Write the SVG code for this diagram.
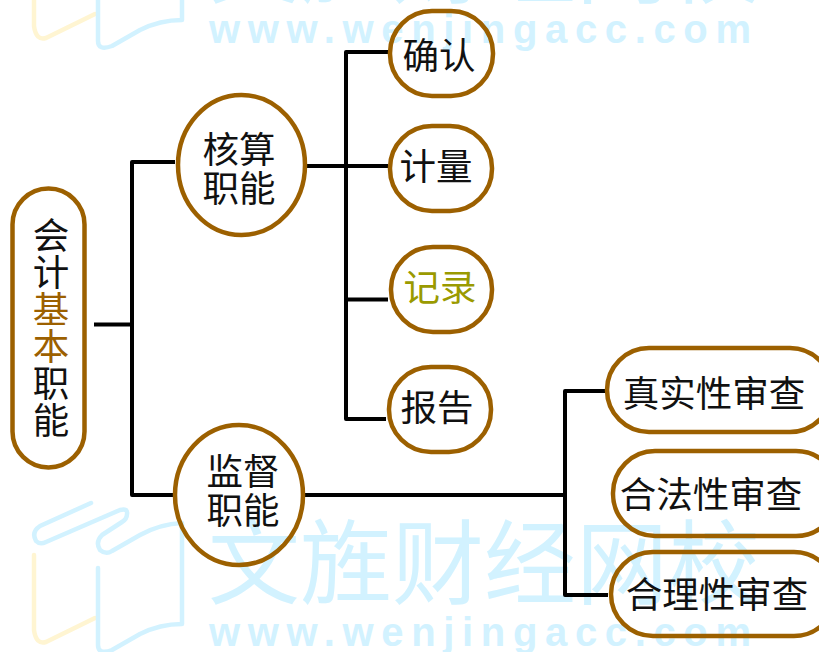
<svg xmlns="http://www.w3.org/2000/svg" width="819" height="652" viewBox="0 0 819 652">
<style>
.n{fill:none;stroke:#9c6000;stroke-width:4.5}
.c{fill:none;stroke:#000;stroke-width:4;stroke-linejoin:round}
text{font-family:"Noto Sans CJK SC","Noto Sans",sans-serif;text-anchor:middle;fill:#111;font-size:36.500px}
.b{fill:#9c6000}
.o{fill:#9a9a00}
.wc{fill:#d2f2ff;font-size:92px;text-anchor:start}
.wu{fill:#d2f2ff;font-family:"Liberation Sans",sans-serif;font-weight:bold;font-size:40px;text-anchor:start}
.lb{fill:none;stroke:#d2f2ff;stroke-width:4.500;stroke-linecap:round;stroke-linejoin:round}
.ly{fill:none;stroke:#fff5d2;stroke-width:4.500;stroke-linecap:round;stroke-linejoin:round}
</style>
<defs>
<g id="logo">
<path class="ly" d="M34 555V630Q36 645 46 642L95 618"/>
<path class="lb" d="M91 503L40 526Q31 532 36 541Q40 545 46 542L120 510Q128 508 127 514Q127 519 122 522L102 535Q95 542 100 550Q106 555 112 551L140 535Q160 524 182 523V624Q160 624 140 634L112 650Q98 655 98 645V568"/>
</g>
</defs>
<rect width="819" height="652" fill="#fff"/>
<g id="watermark">
<use href="#logo"/>
<use href="#logo" y="-604"/>
<text class="wc" x="208" y="597">文旌财经网校</text>
<text class="wu" x="209" y="646" textLength="542" lengthAdjust="spacing">www.wenjingacc.com</text>
<text class="wc" x="208" y="-4">文旌财经网校</text>
<text class="wu" x="209" y="43" textLength="542" lengthAdjust="spacing">www.wenjingacc.com</text>
</g>
<g id="connectors">
<path class="c" d="M94 324.500H132"/>
<path class="c" d="M175 162H132V495H175"/>
<path class="c" d="M307 166H388"/>
<path class="c" d="M388 52H346V419H386"/>
<path class="c" d="M346 299.500H388"/>
<path class="c" d="M305 495H567"/>
<path class="c" d="M606 391H565V595H608"/>
</g>
<g id="node-root"><rect class="n" x="12.500" y="188.500" width="72" height="279" rx="36"/>
<text x="51" y="249">会</text><text x="51" y="286">计</text><text class="b" x="51" y="323">基</text><text class="b" x="51" y="360">本</text><text x="51" y="397">职</text><text x="51" y="434">能</text></g>
<g id="node-hesuan"><ellipse class="n" cx="241.500" cy="165" rx="63.500" ry="70"/>
<text x="239" y="163">核算</text><text x="239" y="202">职能</text></g>
<g id="node-jiandu"><ellipse class="n" cx="239" cy="495" rx="64" ry="70"/>
<text x="243" y="485">监督</text><text x="243" y="524">职能</text></g>
<g id="node-queren"><rect class="n" x="390" y="11" width="103" height="85" rx="42"/><text x="439" y="69">确认</text></g>
<g id="node-jiliang"><rect class="n" x="390" y="126" width="102" height="85" rx="42"/><text x="436" y="180">计量</text></g>
<g id="node-jilu"><rect class="n" x="391" y="247" width="101" height="85" rx="42"/><text class="o" x="440" y="301">记录</text></g>
<g id="node-baogao"><rect class="n" x="389" y="367" width="102" height="85" rx="42"/><text x="437" y="421">报告</text></g>
<g id="node-zhenshi"><rect class="n" x="607" y="348" width="225" height="84" rx="42"/><text x="714" y="407">真实性审查</text></g>
<g id="node-hefa"><rect class="n" x="613" y="451" width="225" height="85" rx="42"/><text x="711" y="508">合法性审查</text></g>
<g id="node-heli"><rect class="n" x="611" y="552" width="225" height="84" rx="42"/><text x="717" y="608">合理性审查</text></g>
</svg>
